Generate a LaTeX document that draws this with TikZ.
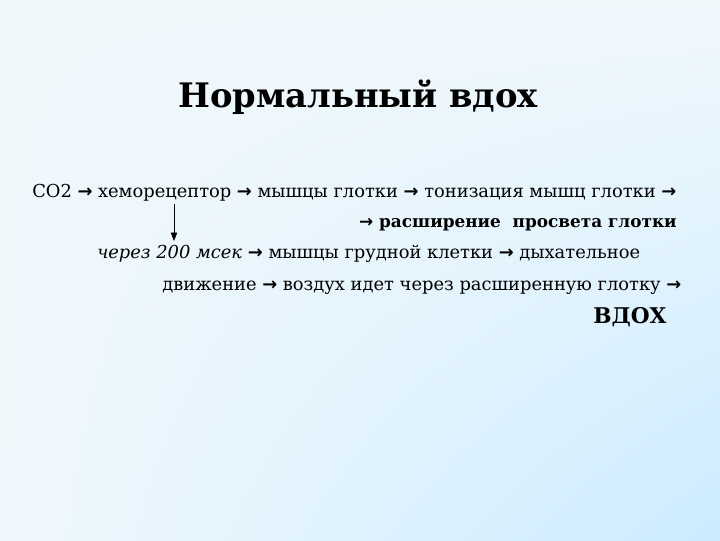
\documentclass[tikz,border=0pt]{standalone}
\usepackage{fontspec}
\setmainfont{DejaVu Serif}
\newfontfamily\arrowfont{DejaVu Sans}
\usetikzlibrary{positioning}
\usetikzlibrary{shadings}
\usetikzlibrary{arrows.meta}
\definecolor{bglight}{RGB}{240,248,252}
\definecolor{bgblue}{RGB}{204,235,255}
\newcommand{\rarr}{{\arrowfont\bfseries →}}
\tikzstyle{headline}=[font=\fontsize{24}{30}\selectfont\bfseries, inner sep=0pt, anchor=base west]
\tikzstyle{textline}=[font=\fontsize{12.7}{16}\selectfont, inner sep=0pt, anchor=base west]
\tikzstyle{downarrow}=[draw, semithick, -{Triangle[length=6pt,width=4.5pt]}]

\begin{document}
\begin{tikzpicture}[x=0.025cm, y=-0.025cm]

  \useasboundingbox (0,0) rectangle (720,540);
  \shade[upper left=bglight, upper right=bglight, lower left=bglight, lower right=bgblue] (0,0) rectangle (720,540);

  \node[headline] (title) at (178,107) {Нормальный вдох};

  % first line, split so the arrow can hang under the receptor
  \node[textline] (co2) at (32,197) {СО2 \rarr};
  \node[textline] (hemo) at ([xshift=3.5pt]co2.base east) {хеморецептор};
  \node[textline] (l1) at ([xshift=3.5pt]hemo.base east) {\rarr{} мышцы глотки \rarr{} тонизация мышц глотки \rarr};

  \node[textline, anchor=base east, font=\fontsize{12}{15}\selectfont\bfseries] (l2) at (677,227) {\rarr{} расширение\ \ просвета глотки};

  \node[textline] (l3) at (97,258) {\textit{через 200 мсек} \rarr{} мышцы грудной клетки \rarr{} дыхательное};
  \node[textline] (l4) at (162,290) {движение \rarr{} воздух идет через расширенную глотку \rarr};
  \node[textline, font=\fontsize{15.4}{19}\selectfont\bfseries] (inhale) at (593,323) {ВДОХ};

  \coordinate (pause) at (174,241);
  \draw[downarrow] ([yshift=-2pt]hemo.south -| pause) -- (pause);

\end{tikzpicture}
\end{document}
